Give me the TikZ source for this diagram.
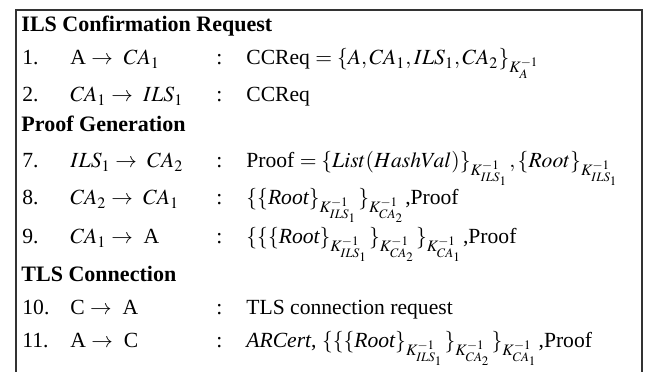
\documentclass[tikz,border=0pt]{standalone}
\usepackage{mathptmx}
\usepackage{fontspec}
\setmainfont{Liberation Serif}
\begin{document}
\begin{tikzpicture}[x=0.463pt,y=-0.463pt,
  cell/.style={anchor=base west, inner sep=0pt, font=\fontsize{10}{12}\selectfont},
  head/.style={cell, font=\fontsize{10.2}{12}\selectfont\bfseries},
  frame/.style={draw=black!80, line width=0.6pt}]
  \useasboundingbox (0,0) rectangle (646,372);
  \clip (0,0) rectangle (646,372);
  % outer frame, open at the bottom edge
  \draw[frame] (16,10) rectangle (642,400);

  % column positions
  \def\cn{22}\def\cs{70}\def\cc{216}\def\cm{246}

  % ILS confirmation request
  \node[head] (h1) at (21,32) {ILS Confirmation Request};
  \node[cell] (n1) at (\cn,65) {1.};
  \node[cell] (s1) at (\cs,65) {A $\rightarrow$\ \ $CA_1$};
  \node[cell] (c1) at (\cc,65) {:};
  \node[cell] (m1) at (\cm,65) {CCReq $= \{A,CA_1,ILS_1,CA_2\}_{K_A^{-1}}$};

  \node[cell] (n2) at (\cn,102) {2.};
  \node[cell] (s2) at (\cs,102) {$CA_1 \rightarrow\ ILS_1$};
  \node[cell] (c2) at (\cc,102) {:};
  \node[cell] (m2) at (\cm,102) {CCReq};

  % proof generation
  \node[head] (h2) at (21,132) {Proof Generation};
  \node[cell] (n7) at (\cn,168) {7.};
  \node[cell] (s7) at (\cs,168) {$ILS_1 \rightarrow\ CA_2$};
  \node[cell] (c7) at (\cc,168) {:};
  \node[cell] (m7) at (\cm,168) {Proof $= \{List(HashVal)\}_{K^{-1}_{ILS_1}},\{Root\}_{K^{-1}_{ILS_1}}$};

  \node[cell] (n8) at (\cn,205) {8.};
  \node[cell] (s8) at (\cs,205) {$CA_2 \rightarrow\ CA_1$};
  \node[cell] (c8) at (\cc,205) {:};
  \node[cell] (m8) at (\cm,205) {$\{\{\textit{Root}\}_{K^{-1}_{ILS_1}}\}_{K^{-1}_{CA_2}}$,Proof};

  \node[cell] (n9) at (\cn,244) {9.};
  \node[cell] (s9) at (\cs,244) {$CA_1 \rightarrow$\ \ A};
  \node[cell] (c9) at (\cc,244) {:};
  \node[cell] (m9) at (\cm,244) {$\{\{\{\textit{Root}\}_{K^{-1}_{ILS_1}}\}_{K^{-1}_{CA_2}}\}_{K^{-1}_{CA_1}}$,Proof};

  % TLS connection
  \node[head] (h3) at (21,282) {TLS Connection};
  \node[cell] (n10) at (\cn,315) {10.};
  \node[cell] (s10) at (\cs,315) {C $\rightarrow$\ \ A};
  \node[cell] (c10) at (\cc,315) {:};
  \node[cell] (m10) at (\cm,315) {TLS connection request};

  \node[cell] (n11) at (\cn,348) {11.};
  \node[cell] (s11) at (\cs,348) {A $\rightarrow$\ \ C};
  \node[cell] (c11) at (\cc,348) {:};
  \node[cell] (m11) at (\cm,348) {\textit{ARCert}, $\{\{\{\textit{Root}\}_{K^{-1}_{ILS_1}}\}_{K^{-1}_{CA_2}}\}_{K^{-1}_{CA_1}}$,Proof};
\end{tikzpicture}
\end{document}
